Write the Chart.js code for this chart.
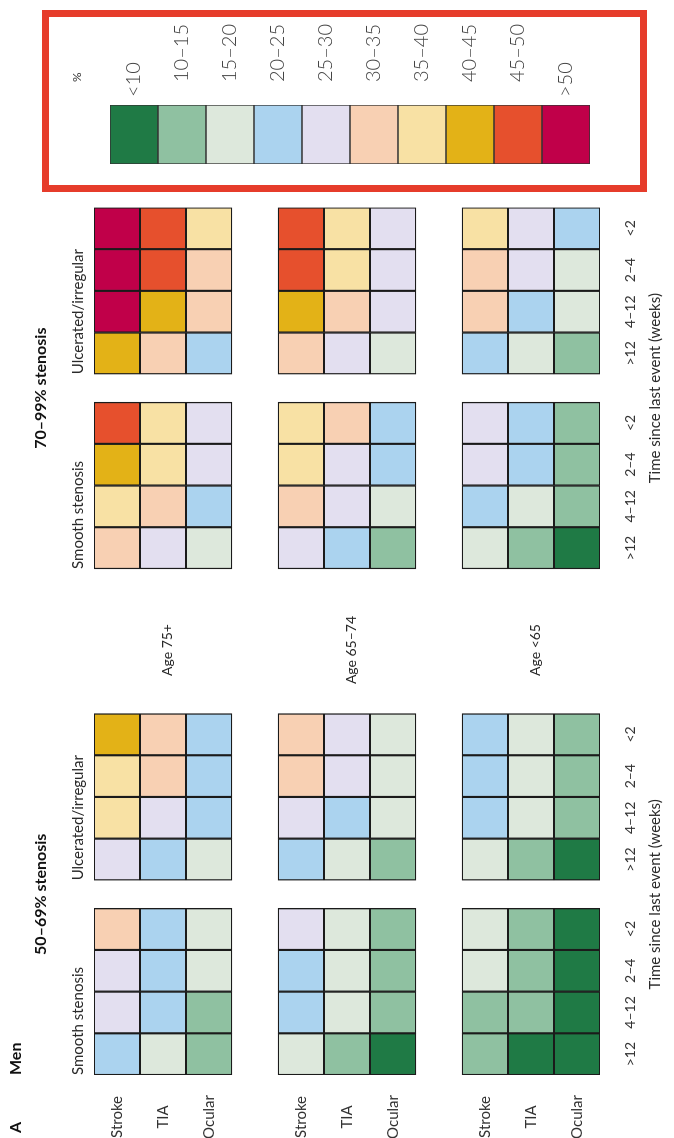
<!DOCTYPE html>
<html>
<head>
<meta charset="utf-8">
<title>Men: risk by stenosis, plaque surface, age and time since last event</title>
<script src="https://cdn.jsdelivr.net/npm/chart.js@4.4.1/dist/chart.umd.min.js"></script>
<style>
html, body { margin: 0; padding: 0; width: 674px; height: 1138px; overflow: hidden; background: #fff; }
/* the figure is laid out upright (1138 x 674) and turned a quarter anticlockwise */
#fig { position: absolute; left: 0; top: 0; width: 1138px; height: 674px;
       transform-origin: 0 0; transform: translateY(1138px) rotate(-90deg);
       font-family: Lato, "Open Sans", sans-serif; color: #2a2a2a; }
#fig canvas { position: absolute; }
.t { position: absolute; white-space: nowrap; line-height: 1; }
.c { transform: translate(-50%, -50%); }
.l { transform: translateY(-50%); }
.b { font-weight: 700; color: #111; }
#key { position: absolute; left: 946px; top: 42px; width: 182px; height: 605px;
       border: 7px solid #e63c2b; box-sizing: border-box; }
</style>
</head>
<body>
<div id="fig">
  <canvas id="heat" width="940" height="674" style="left:0;top:0"></canvas>
  <div id="key"></div>
  <canvas id="scale" width="160" height="520" style="left:960px;top:90px"></canvas>
</div>
<script>
const timeLabels = ['>12', '4–12', '2–4', '<2'];
const eventLabels = ['Stroke', 'TIA', 'Ocular'];
const ageLabels = ['Age 75+', 'Age 65–74', 'Age <65'];
const stenosisLabels = ['50–69% stenosis', '70–99% stenosis'];
const surfaceLabels = ['Smooth stenosis', 'Ulcerated/irregular'];
const riskLabels = ['<10', '10–15', '15–20', '20–25', '25–30', '30–35', '35–40', '40–45', '45–50', '>50'];
const riskColors = ['#1f7a45', '#8fc1a1', '#dde8dc', '#abd3ef', '#e3dff0',
                    '#f8d0b3', '#f8e1a4', '#e3b217', '#e6502d', '#c00049'];

// risk band (index into riskLabels); per age group: rows Stroke, TIA, Ocular; columns >12 ... <2 weeks
const smooth5069 = [
  [[3, 4, 4, 5], [2, 3, 3, 3], [1, 1, 2, 2]],
  [[2, 3, 3, 4], [1, 2, 2, 2], [0, 1, 1, 1]],
  [[1, 1, 2, 2], [0, 1, 1, 1], [0, 0, 0, 0]]
];
const ulcer5069 = [
  [[4, 6, 6, 7], [3, 4, 5, 5], [2, 3, 3, 3]],
  [[3, 4, 5, 5], [2, 3, 4, 4], [1, 2, 2, 2]],
  [[2, 3, 3, 3], [1, 2, 2, 2], [0, 1, 1, 1]]
];
const smooth7099 = [
  [[5, 6, 7, 8], [4, 5, 6, 6], [2, 3, 4, 4]],
  [[4, 5, 6, 6], [3, 4, 4, 5], [1, 2, 3, 3]],
  [[2, 3, 4, 4], [1, 2, 3, 3], [0, 1, 1, 1]]
];
const ulcer7099 = [
  [[7, 9, 9, 9], [5, 7, 8, 8], [3, 5, 5, 6]],
  [[5, 7, 8, 8], [4, 5, 6, 6], [2, 4, 4, 4]],
  [[3, 5, 5, 6], [2, 3, 4, 4], [1, 2, 2, 3]]
];

const panels = [smooth5069, ulcer5069, smooth7099, ulcer7099];
const panelStart = [0, 4.67, 12.14, 16.81];   // left edge of each panel, in cells
const xMax = 20.81;

// y rows: three event rows per age group, a blank spacer row between groups
const rowLabels = [];
ageLabels.forEach((a, i) => {
  if (i) rowLabels.push('');
  rowLabels.push(...eventLabels);
});

const datasets = [];
panels.forEach((panel, p) => {
  timeLabels.forEach((t, k) => {
    const data = [];
    const colors = [];
    rowLabels.forEach((lab, r) => {
      const age = Math.floor(r / 4), ev = r % 4;
      if (ev === 3) { data.push(null); colors.push('rgba(0,0,0,0)'); return; }
      data.push([panelStart[p] + k, panelStart[p] + k + 1]);
      colors.push(riskColors[panel[age][ev][k]]);
    });
    datasets.push({ data: data, backgroundColor: colors });
  });
});

const xTicks = [];
panelStart.forEach(s => timeLabels.forEach((t, k) => xTicks.push(s + k + 0.5)));

Chart.defaults.font.family = 'Lato, "Open Sans", sans-serif';
Chart.defaults.color = '#333';

const heat = new Chart(document.getElementById('heat'), {
  type: 'bar',
  data: { labels: rowLabels, datasets: datasets },
  options: {
    indexAxis: 'y',
    responsive: false,
    animation: false,
    layout: { padding: { top: 94, right: 8, left: 0, bottom: 0 } },
    datasets: {
      bar: { barPercentage: 1, categoryPercentage: 1, grouped: false,
             borderColor: '#1b1b1b', borderWidth: 1.4, borderSkipped: false }
    },
    plugins: { legend: { display: false }, tooltip: { enabled: false } },
    scales: {
      x: {
        type: 'linear', position: 'bottom', min: 0, max: xMax,
        grid: { display: false, drawTicks: false }, border: { display: false },
        afterBuildTicks: s => { s.ticks = xTicks.map(v => ({ value: v })); },
        afterFit: s => { s.height = 74; },
        ticks: { autoSkip: false, maxRotation: 0, minRotation: 0, padding: 22,
                 font: { size: 14 }, callback: (v, i) => timeLabels[i % 4] }
      },
      y: {
        grid: { display: false, drawTicks: false }, border: { display: false },
        afterFit: s => { s.width = 63; },
        ticks: { autoSkip: false, crossAlign: 'center', padding: 20, font: { size: 15 } }
      }
    }
  }
});

new Chart(document.getElementById('scale'), {
  type: 'bar',
  data: {
    labels: riskLabels,
    datasets: [{ data: riskLabels.map(() => 1), backgroundColor: riskColors,
                 borderColor: '#333', borderWidth: 1, borderSkipped: false,
                 barPercentage: 1, categoryPercentage: 1 }]
  },
  options: {
    indexAxis: 'y',
    responsive: false,
    animation: false,
    layout: { padding: { left: 14, top: 14, bottom: 16, right: 0 } },
    plugins: { legend: { display: false }, tooltip: { enabled: false } },
    scales: {
      x: { display: false, min: 0, max: 1 },
      y: {
        position: 'right',
        grid: { display: false, drawTicks: false }, border: { display: false },
        afterFit: s => { s.width = 87; },
        ticks: {
          padding: 8, color: '#444', font: { size: 20, weight: '300' },
          callback: function (v) {
            const t = this.getLabelForValue(v);
            return /^[<>]/.test(t) ? t : '\u2003' + t;
          }
        }
      }
    }
  }
});

// titles and annotations, placed from the heat map's own scales
const fig = document.getElementById('fig');
function addText(str, x, y, cls, size) {
  const d = document.createElement('div');
  d.className = 't ' + cls;
  d.textContent = str;
  d.style.left = x + 'px';
  d.style.top = y + 'px';
  d.style.fontSize = size + 'px';
  fig.appendChild(d);
}
const sx = heat.scales.x, sy = heat.scales.y;
addText('A', 5, 15, 'l b', 16);
addText('Men', sx.getPixelForValue(0), 15, 'l b', 16);
stenosisLabels.forEach((s, i) => {
  const left = sx.getPixelForValue(panelStart[i * 2]);
  const right = sx.getPixelForValue(panelStart[i * 2 + 1] + 4);
  addText(s, (left + right) / 2, 40, 'c b', 16);
  addText('Time since last event (weeks)', (left + right) / 2, 654, 'c', 15);
});
panelStart.forEach((s, p) => addText(surfaceLabels[p % 2], sx.getPixelForValue(s), 77, 'l', 15));
ageLabels.forEach((a, i) => addText(a, 488, sy.getPixelForValue(i * 4 + 1) + 4, 'c', 14));
addText('%', 1056, 77, 'l', 12);
</script>
</body>
</html>
